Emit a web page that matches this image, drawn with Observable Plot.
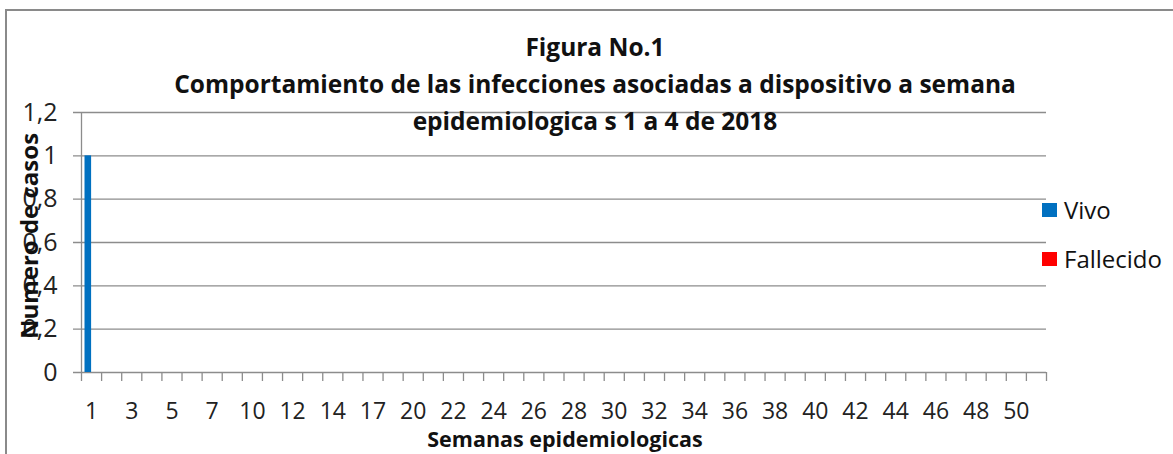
<!DOCTYPE html>
<html>
<head>
<meta charset="utf-8">
<script src="https://cdn.jsdelivr.net/npm/d3@7"></script>
<script src="https://cdn.jsdelivr.net/npm/@observablehq/plot@0.6"></script>
<style>
  html, body { margin: 0; padding: 0; background: #fff; }
  #wrap { position: relative; width: 1173px; height: 454px; overflow: hidden; font-family: "Open Sans", sans-serif; color: #111; }
  #frame { position: absolute; left: 5px; top: 9px; width: 1200px; height: 500px; border-top: 2px solid #8a8a8a; border-left: 2px solid #8a8a8a; }
  #chart { position: absolute; left: 0; top: 0; }
  #title { position: absolute; left: 95px; top: 28px; width: 1000px; text-align: center; font-weight: bold; font-size: 24.5px; line-height: 37px; }
  #ylab { position: absolute; left: 28px; top: 236px; transform: translate(-50%, -50%) rotate(-90deg); white-space: nowrap; font-weight: bold; font-size: 24px; }
  #xlab { position: absolute; left: 565px; top: 439px; transform: translate(-50%, -50%); white-space: nowrap; font-weight: bold; font-size: 21.5px; line-height: 24px; }
  .leg { position: absolute; left: 1042px; font-size: 24px; white-space: nowrap; display: flex; align-items: center; line-height: 26px; }
  .sw { width: 15px; height: 14px; margin-right: 7px; }
</style>
</head>
<body>
<div id="wrap">
  <div id="frame"></div>
  <div id="chart"></div>
  <div id="title"></div>
  <div id="ylab"></div>
  <div id="xlab"></div>
  <div id="legend"></div>
</div>
<script>
const titleLines = ["Figura No.1", "Comportamiento de las infecciones asociadas a dispositivo a semana", "epidemiologica s 1 a 4 de 2018"];
const yTitle = "Numero de casos";
const xTitle = "Semanas epidemiologicas";
const weeks = [1,2,3,4,5,6,7,8,10,11,12,13,14,15,17,18,20,21,22,23,24,25,26,27,28,29,30,31,32,33,34,35,36,37,38,39,40,41,42,43,44,45,46,47,48,49,50,51];
const seriesNames = ["Vivo", "Fallecido"];
const seriesColors = ["#0070C0", "#FF0000"];
const vivo = [1, 0, 0, 0];
const fallecido = [0, 0, 0, 0];
const yTicks = [0, 0.2, 0.4, 0.6, 0.8, 1, 1.2];

const grid = "#8c8c8c";
const fmtY = d => String(+d.toFixed(1)).replace(".", ",");

const vivoData = vivo.map((v, i) => ({i, value: v}));
const fallData = fallecido.map((v, i) => ({i, value: v}));
const boundaries = d3.range(weeks.length + 1);
const labelPos = d3.range(0, weeks.length, 2).map(i => i + 0.5);

const chart = Plot.plot({
  width: 1173,
  height: 454,
  marginLeft: 81,
  marginRight: 127,
  marginTop: 112,
  marginBottom: 82,
  style: {fontFamily: "'Open Sans', sans-serif", background: "transparent", color: "#222", fontSize: "22px"},
  x: {type: "linear", domain: [0, weeks.length], axis: null},
  y: {domain: [0, 1.2], axis: null},
  marks: [
    Plot.ruleY(yTicks, {stroke: grid, strokeWidth: 1.3, insetLeft: -8}),
    Plot.ruleX([0], {stroke: grid, strokeWidth: 1.3}),
    Plot.axisY({ticks: yTicks, tickSize: 0, tickPadding: 24, tickFormat: fmtY, fontSize: 25, fill: "#222", label: null}),
    Plot.axisX({ticks: boundaries, tickSize: 9, tickFormat: () => "", stroke: grid, strokeWidth: 1.3, label: null}),
    Plot.axisX({ticks: labelPos, tickSize: 0, tickPadding: 30, tickFormat: p => String(weeks[p - 0.5]), fontSize: 23, fill: "#222", label: null}),
    Plot.rectY(vivoData, {x1: d => d.i, x2: d => d.i + 1, y: "value", fill: seriesColors[0], insetLeft: 3.5, insetRight: 10}),
    Plot.rectY(fallData, {x1: d => d.i, x2: d => d.i + 1, y: "value", fill: seriesColors[1], insetLeft: 10, insetRight: 3.5})
  ]
});
document.getElementById("chart").appendChild(chart);

document.getElementById("title").innerHTML = titleLines.map(t => `<div>${t}</div>`).join("");
document.getElementById("ylab").textContent = yTitle;
document.getElementById("xlab").textContent = xTitle;
const legTops = [197, 246];
document.getElementById("legend").innerHTML = seriesNames.map((n, k) =>
  `<div class="leg" style="top:${legTops[k]}px"><div class="sw" style="background:${seriesColors[k]}"></div><span>${n}</span></div>`).join("");
</script>
</body>
</html>
